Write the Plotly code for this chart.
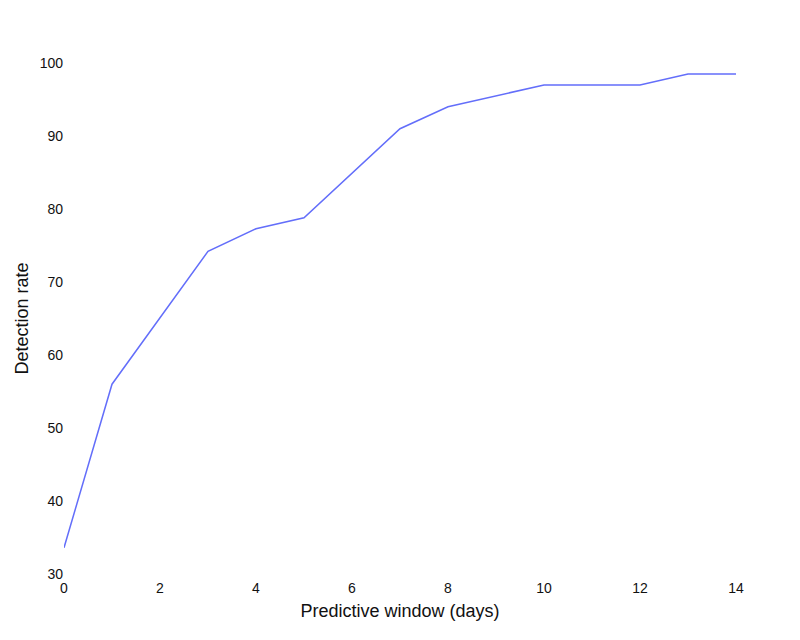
import plotly.graph_objects as go

days = [0, 1, 3, 4, 5, 7, 8, 10, 12, 13, 14]
detection_rate = [33.6, 56.0, 74.2, 77.3, 78.8, 91.0, 94.0, 97.0, 97.0, 98.5, 98.5]
x_ticks = [0, 2, 4, 6, 8, 10, 12, 14]
y_ticks = [30, 40, 50, 60, 70, 80, 90, 100]

fig = go.Figure(go.Scatter(x=days, y=detection_rate, mode="lines",
                           line=dict(color="#636efa", width=1.5)))
fig.update_layout(
    width=800, height=640,
    paper_bgcolor="white", plot_bgcolor="white",
    margin=dict(l=56, r=72, t=55, b=74),
    font=dict(family="Liberation Sans, Arial, sans-serif", size=14, color="#111"),
    showlegend=False,
)
fig.update_xaxes(range=[0, 14], tickvals=x_ticks, showgrid=False, zeroline=False,
                 showline=False, ticks="outside", ticklen=1, tickcolor="white",
                 title=dict(text="Predictive window (days)", font=dict(size=18), standoff=9))
fig.update_yaxes(range=[30, 100], tickvals=y_ticks, showgrid=False, zeroline=False,
                 showline=False,
                 title=dict(text="Detection rate", font=dict(size=18), standoff=6))
fig.write_html("out.html")
